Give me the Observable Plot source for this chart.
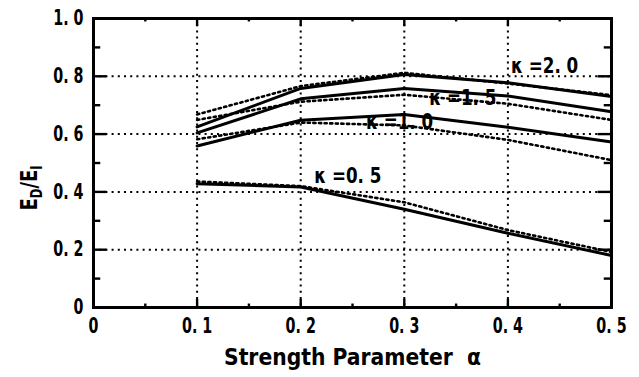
<!DOCTYPE html>
<html><head><meta charset="utf-8">
<script src="https://cdn.jsdelivr.net/npm/d3@7"></script>
<script src="https://cdn.jsdelivr.net/npm/@observablehq/plot@0.6"></script>
<style>
html,body{margin:0;padding:0;background:#fff;}
#chart{width:639px;height:377px;overflow:hidden;}
</style></head>
<body><div id="chart"></div>
<script>
const alphas = [0.1, 0.2, 0.3, 0.4, 0.5];
const kappas = ["2.0", "1.5", "1.0", "0.5"];
// solid lines
const solid_k20 = [0.625, 0.758, 0.806, 0.778, 0.730];
const solid_k15 = [0.604, 0.722, 0.758, 0.732, 0.677];
const solid_k10 = [0.559, 0.648, 0.668, 0.624, 0.573];
const solid_k05 = [0.428, 0.417, 0.340, 0.257, 0.180];
// dotted lines
const dot_k20 = [0.668, 0.766, 0.812, 0.775, 0.735];
const dot_k15 = [0.649, 0.712, 0.736, 0.705, 0.649];
const dot_k10 = [0.582, 0.640, 0.630, 0.580, 0.510];
const dot_k05 = [0.436, 0.420, 0.364, 0.268, 0.192];

const xTicks = [0, 0.1, 0.2, 0.3, 0.4, 0.5];
const yTicks = [0, 0.2, 0.4, 0.6, 0.8, 1.0];
const xMinor = [0.05, 0.15, 0.25, 0.35, 0.45];
const yMinor = [0.1, 0.3, 0.5, 0.7, 0.9];
const xGrid = [0.1, 0.2, 0.3, 0.4];
const yGrid = [0.2, 0.4, 0.6, 0.8];

const labelText = ["κ =2. 0", "κ =1. 5", "κ =1. 0", "κ =0. 5"];
const labelX = [0.403, 0.324, 0.263, 0.213];
const labelY = [0.837, 0.726, 0.642, 0.455];

const xTitle = "Strength Parameter  α";

const solidSeries = [solid_k20, solid_k15, solid_k10, solid_k05];
const dotSeries = [dot_k20, dot_k15, dot_k10, dot_k05];
const solidRows = [], dotRows = [];
kappas.forEach((k, i) => alphas.forEach((a, j) => {
  solidRows.push({k, a, v: solidSeries[i][j]});
  dotRows.push({k, a, v: dotSeries[i][j]});
}));
const labels = labelText.map((t, i) => ({t, x: labelX[i], y: labelY[i]}));
const fmt = d => d === 0 ? "0" : d.toFixed(1).replace(".", ". ");

const font = "'DejaVu Sans', sans-serif";

const plot = Plot.plot({
  width: 639, height: 377,
  marginLeft: 93, marginRight: 28, marginTop: 18, marginBottom: 70,
  style: {fontFamily: font, fontWeight: "bold", background: "#fff", color: "#000", overflow: "visible"},
  x: {domain: [0, 0.5]},
  y: {domain: [0, 1]},
  marks: [
    Plot.ruleX(xGrid, {stroke: "#000", strokeWidth: 2, strokeDasharray: "2,4.2"}),
    Plot.ruleY(yGrid, {stroke: "#000", strokeWidth: 2, strokeDasharray: "2,4.2"}),
    Plot.ruleX(xTicks, {y1: 0, y2: 0.028, stroke: "#000", strokeWidth: 2.4}),
    Plot.ruleX(xTicks, {y1: 1, y2: 0.972, stroke: "#000", strokeWidth: 2.4}),
    Plot.ruleX(xMinor, {y1: 0, y2: 0.012, stroke: "#000", strokeWidth: 2.4}),
    Plot.ruleX(xMinor, {y1: 1, y2: 0.988, stroke: "#000", strokeWidth: 2.4}),
    Plot.ruleY(yTicks, {x1: 0, x2: 0.013, stroke: "#000", strokeWidth: 2.4}),
    Plot.ruleY(yTicks, {x1: 0.5, x2: 0.487, stroke: "#000", strokeWidth: 2.4}),
    Plot.ruleY(yMinor, {x1: 0, x2: 0.007, stroke: "#000", strokeWidth: 2.4}),
    Plot.ruleY(yMinor, {x1: 0.5, x2: 0.493, stroke: "#000", strokeWidth: 2.4}),
    Plot.line(dotRows, {x: "a", y: "v", z: "k", stroke: "#000", strokeWidth: 2.6, strokeDasharray: "2.2,3.4"}),
    Plot.line(solidRows, {x: "a", y: "v", z: "k", stroke: "#000", strokeWidth: 3}),
    Plot.text(labels, {x: "x", y: "y", text: "t", textAnchor: "start", fontSize: 22, fontWeight: "bold", fill: "#000", className: "klab"}),
    Plot.frame({stroke: "#000", strokeWidth: 3}),
    Plot.axisX(xTicks, {tickSize: 0, tickPadding: 11, tickFormat: fmt, fontSize: 21, label: null}),
    Plot.axisY(yTicks, {tickSize: 0, tickPadding: 10, tickFormat: fmt, fontSize: 21, label: null}),
    Plot.text([xTitle], {frameAnchor: "bottom", dy: 57, fontSize: 23, fontWeight: "bold", fill: "#000", className: "xtitle"})
  ]
});
document.getElementById("chart").appendChild(plot);

const svg = d3.select(plot);
// condense all text glyphs horizontally (reference uses a narrow font)
svg.selectAll("text").each(function() {
  const el = this;
  const len = el.getComputedTextLength();
  if (!len) return;
  let f = 0.68;
  if (el.closest(".klab")) f = 0.76;
  if (el.closest(".xtitle")) { el.setAttribute("textLength", 257); el.setAttribute("lengthAdjust", "spacingAndGlyphs"); return; }
  el.setAttribute("textLength", (len * f).toFixed(1));
  el.setAttribute("lengthAdjust", "spacingAndGlyphs");
});

// y axis title with subscripts
const yt = svg.append("text")
  .attr("transform", "translate(37,188) rotate(-90)")
  .attr("text-anchor", "middle")
  .attr("font-family", font).attr("font-weight", "bold")
  .attr("font-size", 23).attr("fill", "#000");
yt.append("tspan").text("E");
yt.append("tspan").attr("font-size", 15).attr("dy", 5).text("D");
yt.append("tspan").attr("dy", -5).text("/E");
yt.append("tspan").attr("font-size", 15).attr("dy", 5).text("I");
const ylen = yt.node().getComputedTextLength();
yt.attr("textLength", (ylen * 0.78).toFixed(1)).attr("lengthAdjust", "spacingAndGlyphs");
</script>
</body></html>
